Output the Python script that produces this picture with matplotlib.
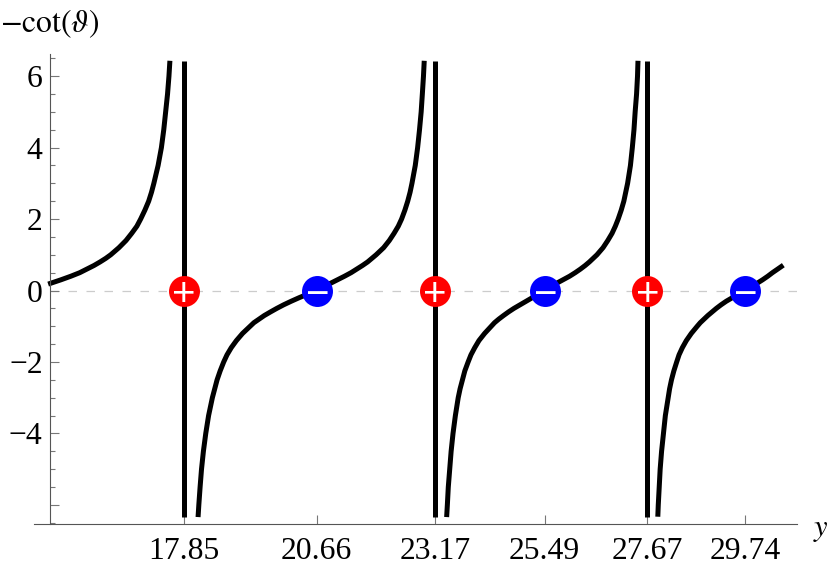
import matplotlib
matplotlib.use("Agg")
import matplotlib.pyplot as plt

plt.rcParams['font.family'] = ['Liberation Serif', 'DejaVu Serif']
plt.rcParams['mathtext.fontset'] = 'stix'

# zeros of the function and poles, labelled on the x axis
plus_y = [17.85, 23.17, 27.67]
minus_y = [20.66, 25.49, 29.74]
x_ticks = [17.85, 20.66, 23.17, 25.49, 27.67, 29.74]
x_labels = ["17.85", "20.66", "23.17", "25.49", "27.67", "29.74"]
y_major = [-6, -4, -2, 0, 2, 4, 6]
y_labels = ["", "\u22124", "\u22122", "0", "2", "4", "6"]
y_minor = [-6.5, -5.5, -5, -4.5, -3.5, -3, -2.5, -1.5, -1, -0.5,
           0.5, 1, 1.5, 2.5, 3, 3.5, 4.5, 5, 5.5, 6.5]

# curve branches
b1_x = [14.97, 15.24, 15.45, 15.64, 15.79, 15.94, 16.07, 16.19, 16.295, 16.47,
        16.62, 16.74, 16.85, 16.93, 17.02, 17.10, 17.16, 17.21, 17.30, 17.37,
        17.42, 17.46, 17.50, 17.53, 17.55]
b1_v = [0.18, 0.3, 0.4, 0.5, 0.6, 0.7, 0.8, 0.9, 1.0, 1.2,
        1.4, 1.6, 1.8, 2.0, 2.25, 2.5, 2.75, 3.0, 3.5, 4.0,
        4.5, 5.0, 5.5, 6.0, 6.43]
b2_x = [18.147, 18.163, 18.19, 18.22, 18.26, 18.31, 18.37, 18.45, 18.50, 18.55,
        18.615, 18.69, 18.76, 18.85, 18.96, 19.09, 19.25, 19.33, 19.44, 19.55,
        19.68, 19.815, 19.96, 20.12, 20.29, 20.47, 20.66,
        20.80, 20.95, 21.10, 21.25, 21.39, 21.51, 21.63, 21.74, 21.83, 21.92,
        22.08, 22.20, 22.30, 22.39, 22.46, 22.53, 22.59, 22.64, 22.68, 22.75,
        22.80, 22.84, 22.875, 22.90, 22.924, 22.94]
b2_v = [-6.34, -6.0, -5.5, -5.0, -4.5, -4.0, -3.5, -3.0, -2.75, -2.5,
        -2.25, -2.0, -1.8, -1.6, -1.4, -1.2, -1.0, -0.9, -0.8, -0.7,
        -0.6, -0.5, -0.4, -0.3, -0.2, -0.1, 0.0,
        0.1, 0.2, 0.3, 0.4, 0.5, 0.6, 0.7, 0.8, 0.9, 1.0,
        1.2, 1.4, 1.6, 1.8, 2.0, 2.25, 2.5, 2.75, 3.0, 3.5,
        4.0, 4.5, 5.0, 5.5, 6.0, 6.43]
b3_x = [23.415, 23.43, 23.45, 23.48, 23.51, 23.55, 23.60, 23.66, 23.70, 23.75,
        23.80, 23.87, 23.93, 24.01, 24.10, 24.22, 24.36, 24.43, 24.52, 24.62,
        24.725, 24.84, 24.97, 25.10, 25.23, 25.365, 25.49,
        25.62, 25.74, 25.88, 26.02, 26.14, 26.25, 26.35, 26.44, 26.52, 26.60,
        26.73, 26.83, 26.92, 26.99, 27.05, 27.115, 27.17, 27.21, 27.25, 27.31,
        27.35, 27.385, 27.41, 27.44, 27.46, 27.47]
b3_v = b2_v
b4_x = [27.89, 27.90, 27.92, 27.94, 27.97, 28.01, 28.05, 28.11, 28.14, 28.18,
        28.23, 28.29, 28.34, 28.41, 28.495, 28.60, 28.725, 28.79, 28.87, 28.95,
        29.04, 29.13, 29.23, 29.34, 29.47, 29.60, 29.74,
        29.87, 29.99, 30.11, 30.22, 30.32, 30.43, 30.55]
b4_v = [-6.33, -6.0, -5.5, -5.0, -4.5, -4.0, -3.5, -3.0, -2.75, -2.5,
        -2.25, -2.0, -1.8, -1.6, -1.4, -1.2, -1.0, -0.9, -0.8, -0.7,
        -0.6, -0.5, -0.4, -0.3, -0.2, -0.1, 0.0,
        0.1, 0.2, 0.3, 0.4, 0.5, 0.6, 0.71]

W, H = 830, 570
fig = plt.figure(figsize=(W / 100, H / 100), dpi=100)
ax = fig.add_axes([34 / W, 1 - 523.5 / H, (797 - 34) / W, (523.5 - 54) / H])
ax.set_xlim(14.67, 30.84)
ax.set_ylim(-6.52, 6.62)

# axes
axis_color = '#555555'
for side in ['top', 'right']:
    ax.spines[side].set_visible(False)
ax.spines['left'].set_position(('data', 15.0))
ax.spines['left'].set_color(axis_color)
ax.spines['bottom'].set_color(axis_color)
ax.spines['left'].set_linewidth(0.8)
ax.spines['bottom'].set_linewidth(0.8)

ax.set_xticks(x_ticks)
ax.set_xticklabels(x_labels)
ax.set_yticks(y_major)
ax.set_yticklabels(y_labels)
ax.set_yticks(y_minor, minor=True)
ax.tick_params(axis='x', direction='in', length=6.5, width=0.8, color='#777777',
               labelsize=22.8, pad=10)
ax.tick_params(axis='y', which='major', direction='in', length=6.5, width=0.8,
               color='#777777', labelsize=22.8, pad=5)
ax.tick_params(axis='y', which='minor', direction='in', length=3.6, width=0.8,
               color='#777777')

# zero line
ax.plot([15.0, 30.84], [0, 0], color='#cccccc', lw=0.9,
        linestyle=(0, (6.8, 7.6)), zorder=1)

# curve
for bx, bv in [(b1_x, b1_v), (b2_x, b2_v), (b3_x, b3_v), (b4_x, b4_v)]:
    ax.plot(bx, bv, color='black', lw=3.6, solid_capstyle='butt',
            solid_joinstyle='round', zorder=2, clip_on=False)
for py in plus_y:
    ax.plot([py, py], [-6.34, 6.43], color='black', lw=3.6,
            solid_capstyle='butt', zorder=2)

# markers
ax.plot(plus_y, [0] * len(plus_y), 'o', color='#ff0000', ms=22.3, mew=0, zorder=3)
ax.plot(minus_y, [0] * len(minus_y), 'o', color='#0000ff', ms=22.3, mew=0, zorder=3)
for py in plus_y:
    ax.annotate("+", (py, 0), xytext=(0, -3.5), textcoords='offset points',
                ha='center', va='center', color='white', fontsize=29,
                family='Liberation Sans', zorder=4)
for py in minus_y:
    ax.annotate("\u2212", (py, 0), xytext=(0, -3.5), textcoords='offset points',
                ha='center', va='center', color='white', fontsize=29,
                family='Liberation Sans', zorder=4)

# axis labels
fig.text(0 / W, 1 - 32 / H, r"$-\mathrm{cot}(\vartheta)$", fontsize=22.8,
         ha='left', va='baseline', color='black')
fig.text(813 / W, 1 - 536 / H, r"$y$", fontsize=22, ha='left', va='baseline',
         color='black')

fig.savefig("out.png", dpi=100)
plt.close(fig)
